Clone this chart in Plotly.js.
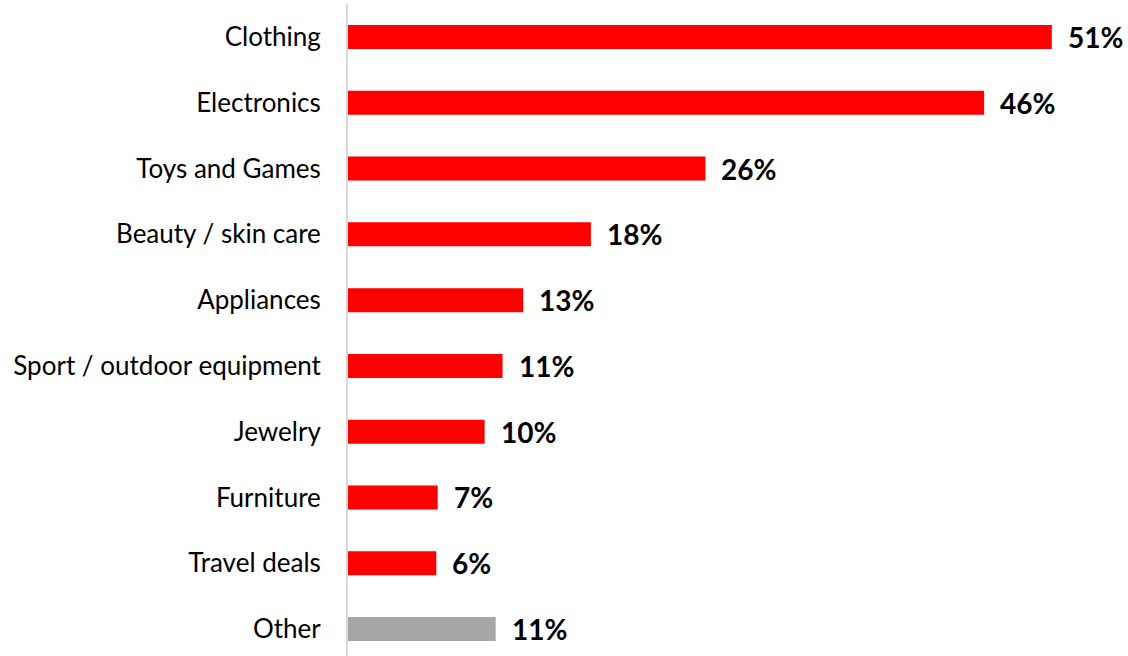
<!DOCTYPE html>
<html>
<head>
<meta charset="utf-8">
<script src="https://cdn.plot.ly/plotly-3.0.1.min.js"></script>
<style>html,body{margin:0;padding:0;background:#fff;}#chart{width:1128px;height:656px;}</style>
</head>
<body>
<div id="chart"></div>
<script>
const categories = ["Clothing", "Electronics", "Toys and Games", "Beauty / skin care", "Appliances", "Sport / outdoor equipment", "Jewelry", "Furniture", "Travel deals", "Other"];
const values = [51.0, 46.1, 25.9, 17.6, 12.7, 11.2, 9.9, 6.5, 6.4, 10.7];
const valueLabels = ["51%", "46%", "26%", "18%", "13%", "11%", "10%", "7%", "6%", "11%"];
const barColors = ["#ff0000", "#ff0000", "#ff0000", "#ff0000", "#ff0000", "#ff0000", "#ff0000", "#ff0000", "#ff0000", "#a6a6a6"];

const FONT = "Lato, 'Open Sans', sans-serif";

const trace = {
  type: "bar",
  orientation: "h",
  x: values,
  y: categories,
  width: 0.365,
  marker: {color: barColors, line: {width: 0}},
  hoverinfo: "none"
};

const annotations = categories.map((c, i) => ({
  x: values[i],
  y: c,
  xref: "x",
  yref: "y",
  text: "<b>" + valueLabels[i] + "</b>",
  showarrow: false,
  xanchor: "left",
  yanchor: "middle",
  xshift: 14,
  font: {family: FONT, size: 28, color: "#000"}
}));

const layout = {
  width: 1128,
  height: 656,
  margin: {l: 348, r: 0, t: 4, b: 0, pad: 0},
  paper_bgcolor: "#fff",
  plot_bgcolor: "#fff",
  showlegend: false,
  xaxis: {
    range: [0, 56.52],
    showgrid: false,
    zeroline: false,
    showline: false,
    showticklabels: false,
    ticks: ""
  },
  yaxis: {
    type: "category",
    range: [9.41, -0.502],
    showgrid: false,
    zeroline: false,
    showline: true,
    linecolor: "#d9d9d9",
    linewidth: 2,
    ticks: "",
    ticklabelstandoff: 20,
    tickfont: {family: FONT, size: 26, color: "#000"}
  },
  annotations: annotations
};

Plotly.newPlot("chart", [trace], layout, {displayModeBar: false, staticPlot: true});
</script>
</body>
</html>
